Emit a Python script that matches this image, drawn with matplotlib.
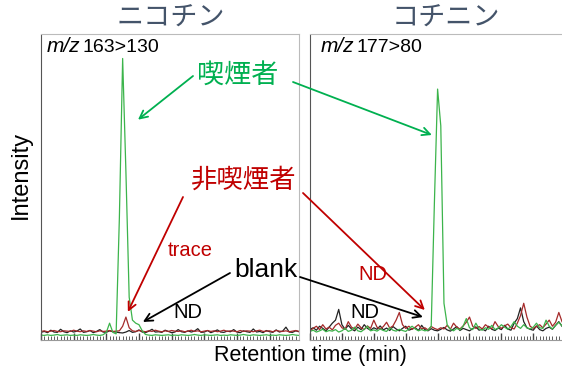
import numpy as np
import matplotlib
matplotlib.use("Agg")
import matplotlib.pyplot as plt
from matplotlib.ticker import MultipleLocator

plt.rcParams['font.family'] = ['Liberation Sans', 'Noto Sans CJK JP', 'DejaVu Sans']

# chromatogram traces (intensity, % of full scale), nicotine panel
nic_blank = [2.5, 2.8, 2.4, 3.2, 2.6, 2.5, 3.5, 2.7, 2.4, 3.0, 2.6, 2.9, 3.6, 2.5, 2.7, 3.1,
             2.4, 2.8, 3.4, 2.6, 2.5, 3.0, 2.7, 2.6, 2.4, 2.3, 2.6, 3.1, 2.5, 2.7, 3.3, 2.6,
             2.4, 2.9, 3.5, 2.6, 2.7, 2.5, 3.2, 2.8, 2.4, 2.6, 3.4, 2.7, 2.5, 3.0, 2.6, 2.9,
             3.7, 2.5, 2.6, 3.1, 2.4, 2.8, 3.3, 2.6, 2.5, 2.9, 2.7, 3.4, 2.6, 2.4, 3.0, 2.7,
             2.5, 3.6, 2.6, 2.8, 2.4, 3.1, 2.7, 2.5, 3.3, 2.6, 2.9, 4.2, 2.6, 2.5, 3.0, 2.7]
nic_nonsmoker = [2.8, 3.0, 2.7, 2.9, 3.1, 2.8, 2.7, 3.0, 2.9, 2.8, 3.2, 2.9, 2.7, 3.0, 2.8, 3.1,
                 2.9, 2.7, 3.0, 2.8, 2.9, 3.1, 2.8, 2.9, 3.0, 4.5, 7.5, 4.0, 3.0, 2.8, 3.1, 2.9,
                 2.7, 3.0, 2.8, 3.2, 2.9, 2.7, 3.0, 2.8, 3.1, 2.9, 2.8, 3.0, 2.7, 2.9, 3.2, 2.8,
                 3.0, 2.7, 2.9, 3.1, 2.8, 3.0, 2.7, 2.9, 3.2, 2.8, 3.0, 2.9, 2.7, 3.1, 2.8, 3.0,
                 2.9, 2.7, 3.0, 3.2, 2.8, 2.9, 3.0, 2.7, 3.1, 2.9, 2.8, 3.0, 2.7, 2.9, 3.1, 2.8]
nic_smoker = [1.6, 1.5, 1.7, 1.5, 1.6, 1.8, 1.5, 1.6, 1.7, 1.5, 1.6, 1.5, 1.7, 1.6, 1.5, 1.6,
              1.8, 1.6, 1.5, 1.7, 2.5, 5.5, 2.5, 2.0, 40.0, 92.0, 55.0, 14.0, 6.5, 5.5, 5.0, 3.0,
              1.8, 1.6, 1.5, 1.7, 1.6, 1.5, 1.6, 1.7, 1.5, 1.6, 1.5, 1.7, 1.6, 1.5, 1.6, 1.8,
              1.6, 1.5, 1.7, 1.6, 1.5, 1.6, 1.7, 1.5, 1.6, 1.5, 1.7, 1.6, 1.5, 1.6, 1.8, 1.6,
              1.5, 1.7, 1.6, 1.5, 1.6, 1.7, 1.5, 1.6, 1.5, 1.7, 1.6, 1.5, 1.6, 1.8, 1.6, 1.5]

# cotinine panel
cot_blank = [3.5, 4.0, 3.2, 4.5, 3.8, 3.0, 4.2, 5.5, 6.5, 10.0, 5.0, 3.5, 4.8, 3.6, 3.0, 4.2,
             3.4, 5.0, 3.8, 3.2, 4.0, 3.5, 4.6, 3.3, 3.9, 3.1, 4.4, 3.6, 3.0, 3.8, 4.5, 3.2,
             3.6, 4.0, 3.1, 4.8, 3.4, 3.0, 3.7, 3.2, 3.0, 3.5, 4.1, 3.3, 2.9, 3.6, 4.4, 3.1,
             3.8, 3.4, 3.0, 3.7, 4.3, 3.2, 3.6, 3.0, 4.5, 3.5, 3.1, 3.9, 3.4, 4.8, 3.6, 3.2,
             5.5, 7.0, 10.5, 6.0, 4.0, 3.5, 3.2, 4.6, 3.4, 3.0, 3.8, 4.2, 3.5, 4.8, 6.0, 4.5]
cot_nonsmoker = [3.0, 3.8, 4.5, 3.4, 5.0, 3.6, 4.2, 3.3, 4.8, 5.5, 4.0, 3.5, 6.0, 4.2, 3.6, 5.2,
                 4.0, 3.4, 4.6, 3.8, 6.5, 4.2, 3.6, 4.4, 5.8, 3.9, 4.6, 6.5, 9.0, 5.0, 3.8, 4.5,
                 3.5, 4.2, 5.0, 3.6, 4.0, 3.3, 4.4, 3.8, 3.4, 4.0, 3.6, 4.8, 3.5, 5.5, 4.2, 3.6,
                 4.6, 5.8, 7.5, 4.5, 3.8, 4.4, 3.6, 5.0, 4.2, 3.7, 6.0, 4.4, 3.8, 4.6, 5.2, 4.0,
                 3.6, 5.5, 8.0, 12.0, 7.5, 4.5, 3.8, 4.4, 5.0, 4.0, 5.2, 6.5, 4.5, 5.8, 9.0, 6.0]
cot_smoker = [2.8, 3.2, 2.6, 3.0, 3.5, 2.7, 3.1, 2.9, 3.4, 2.6, 3.0, 3.8, 2.8, 3.2, 4.2, 3.0,
              2.7, 3.5, 4.5, 3.0, 3.3, 2.9, 3.6, 3.1, 2.8, 4.0, 3.2, 2.9, 3.5, 3.1, 2.8, 3.7,
              4.5, 3.6, 3.0, 3.4, 3.0, 3.2, 4.5, 45.0, 82.0, 70.0, 12.0, 5.0, 3.5, 3.0, 3.8, 3.3,
              4.5, 7.0, 4.0, 3.4, 5.5, 3.6, 3.2, 4.0, 3.5, 4.8, 3.4, 3.9, 5.0, 4.2, 3.5, 4.4,
              6.0, 4.5, 3.8, 5.0, 4.0, 3.6, 4.2, 5.5, 4.0, 3.8, 6.5, 4.5, 3.6, 4.8, 5.8, 4.6]

panel_titles = ["ニコチン", "コチニン"]
transitions = ["163>130", "177>80"]

c_green = "#3cb44b"
c_red = "#a52a2a"
c_black = "#222222"
t_green = "#00b050"
t_red = "#c00000"

W, H = 562, 369
fig = plt.figure(figsize=(W / 100, H / 100), dpi=100)

def px(x0, y0, x1, y1):
    return [x0 / W, 1 - y1 / H, (x1 - x0) / W, (y1 - y0) / H]

def ftext(x, y, s, **kw):
    # text placed in figure pixels, measured from the top-left corner
    return fig.text(x / W, 1 - y / H, s, **kw)

ax1 = fig.add_axes(px(41, 34, 299, 340))
ax2 = fig.add_axes(px(310, 34, 562, 340))

panels = [(ax1, (nic_blank, nic_nonsmoker, nic_smoker), 0, 171, 47),
          (ax2, (cot_blank, cot_nonsmoker, cot_smoker), 1, 446, 321)]
for ax, traces, i, tx, mx in panels:
    for y, col in zip(traces, [c_black, c_red, c_green]):
        ax.plot(np.arange(len(y)), y, color=col, lw=0.9)
    ax.set_xlim(0, 79)
    ax.set_ylim(0, 100)
    ax.set_yticks([])
    ax.xaxis.set_major_locator(MultipleLocator(10))
    ax.xaxis.set_minor_locator(MultipleLocator(1))
    ax.tick_params(axis='x', which='both', direction='in', labelbottom=False, color='#444444')
    ax.tick_params(axis='x', which='major', length=5, width=1)
    ax.tick_params(axis='x', which='minor', length=3, width=0.6)
    ax.spines['left'].set_linestyle((0, (1, 1)))
    ax.spines['left'].set_color('#555555')
    ax.spines['top'].set_color('#bbbbbb')
    ax.spines['right'].set_color('#bbbbbb')
    ax.spines['bottom'].set_color('#999999')
    ftext(tx, 18, panel_titles[i], fontsize=19.5, color='#44546a', ha='center', va='center',
          family=['Noto Sans CJK JP'])
    ftext(mx, 47, "m/z", fontsize=15, style='italic', ha='left', va='center')
    ftext(mx + 36, 47, transitions[i], fontsize=14, ha='left', va='center')
ax2.spines['right'].set_visible(False)

ftext(21, 175, "Intensity", rotation=90, fontsize=17, ha='center', va='center')
ftext(310, 355, "Retention time (min)", fontsize=15.5, ha='center', va='center')

def arrow(ax, target, start, col):
    ax.annotate("", xy=target, xycoords='data', xytext=(start[0], H - start[1]),
                textcoords='figure pixels', annotation_clip=False,
                arrowprops=dict(arrowstyle='->', color=col, lw=1.3, shrinkA=0, shrinkB=0,
                                mutation_scale=14))

# smoker labels
ftext(238, 76, "喫煙者", color=t_green, fontsize=19.5, ha='center', va='center')
arrow(ax1, (29.7, 72), (193, 76), t_green)
arrow(ax2, (38.2, 67), (293, 82), t_green)

# non-smoker labels
ftext(244, 180, "非喫煙者", color=t_red, fontsize=19, ha='center', va='center')
arrow(ax1, (26.6, 9.2), (183, 197), t_red)
arrow(ax2, (36.0, 9.8), (303, 193), t_red)
ftext(190, 250, "trace", color=t_red, fontsize=14.5, ha='center', va='center')
ftext(373, 275, "ND", color=t_red, fontsize=14.5, ha='center', va='center')

# blank labels
ftext(266, 270, "blank", color='black', fontsize=19, ha='center', va='center')
arrow(ax1, (31.2, 5.9), (230, 273), 'black')
arrow(ax2, (35.4, 7.5), (300, 277), 'black')
ftext(188, 313, "ND", color='black', fontsize=14.5, ha='center', va='center')
ftext(365, 312, "ND", color='black', fontsize=14.5, ha='center', va='center')

fig.savefig("out.png", dpi=100)
